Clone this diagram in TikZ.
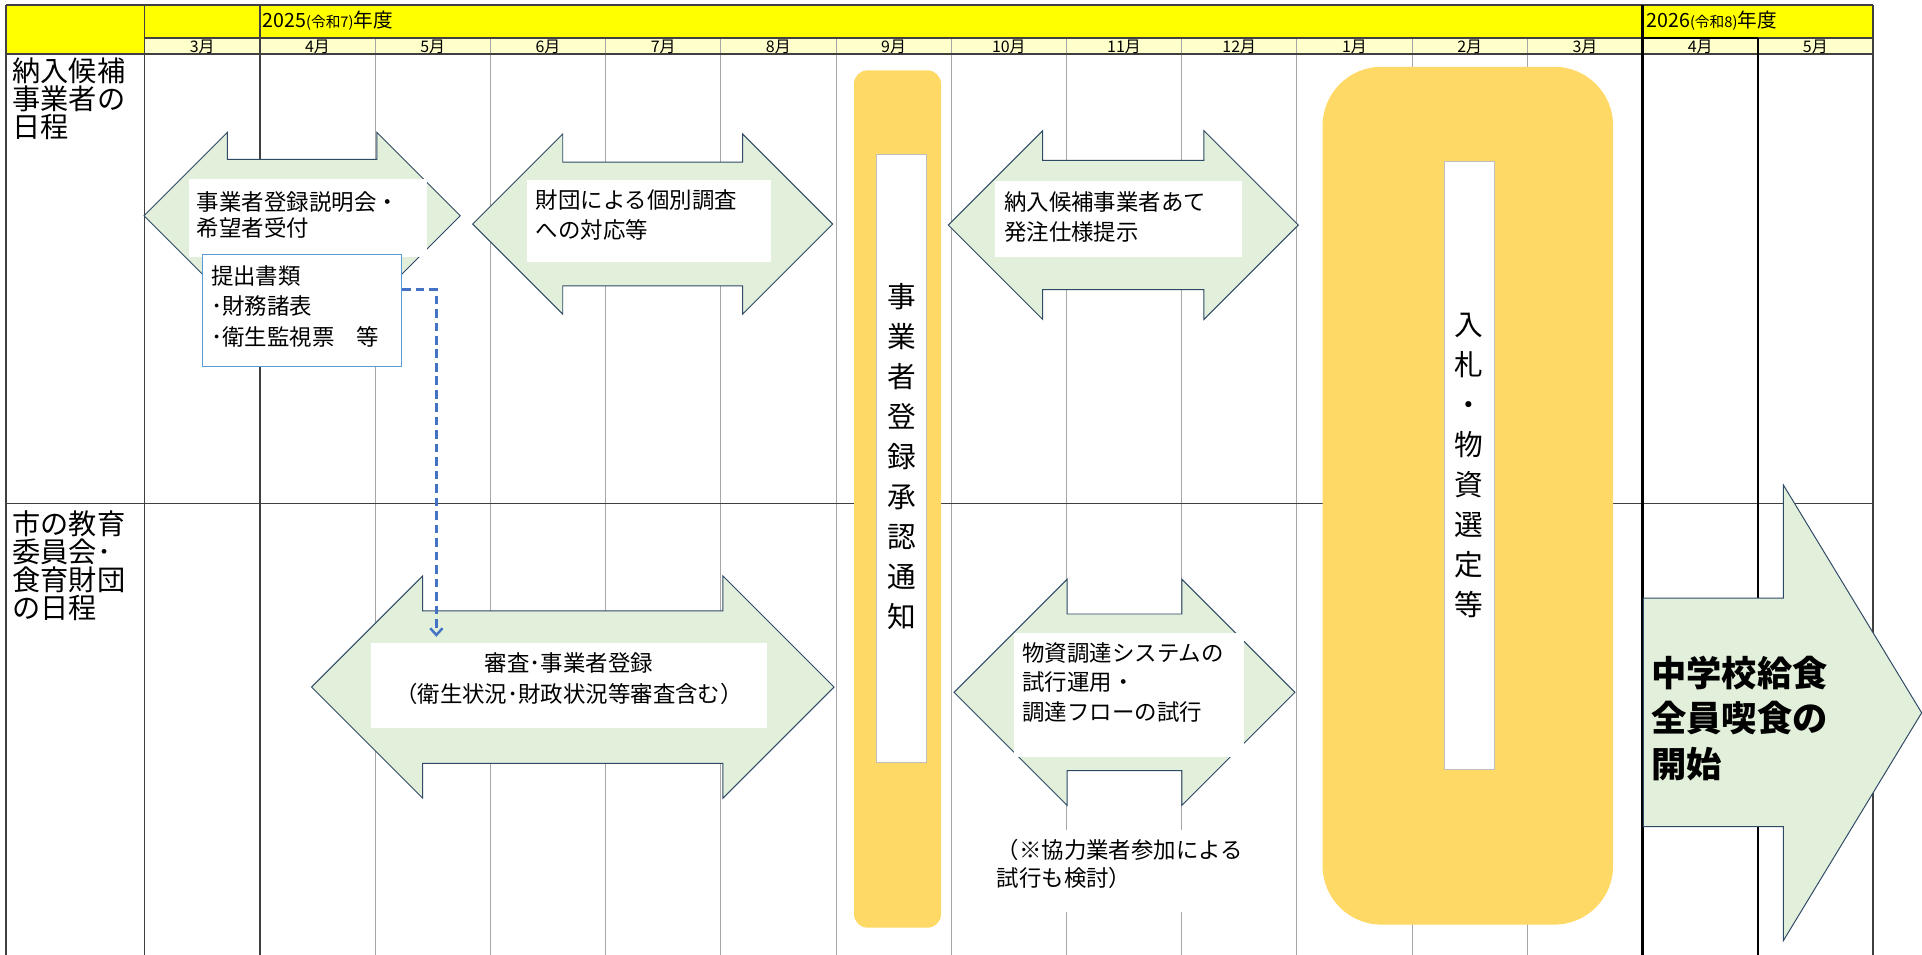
\documentclass[tikz,border=0pt]{standalone}
\usepackage{fontspec}
\setmainfont{Noto Sans CJK JP}
\usetikzlibrary{arrows.meta}
\definecolor{hdryellow}{HTML}{FFFF00}
\definecolor{monthyellow}{HTML}{FFFFCC}
\definecolor{goldfill}{HTML}{FFD966}
\definecolor{arrowgreen}{HTML}{E2EFDA}
\definecolor{arrowline}{HTML}{2F4A66}
\definecolor{gridgray}{HTML}{A6A6A6}
\definecolor{griddark}{HTML}{404040}
\definecolor{dashblue}{HTML}{4472C4}
\definecolor{boxblue}{HTML}{5B9BD5}
\definecolor{innergray}{HTML}{BFBFBF}
\newcommand{\fsz}[2]{\fontsize{#1pt}{#2pt}\selectfont\lineskiplimit=-100pt\lineskip=0pt\relax}
% double-headed block arrow: left tip x, right tip x, centre y, head size, shaft half height
\newcommand{\DArrow}[5]{%
  \pgfmathsetmacro\dxa{#1+#4}\pgfmathsetmacro\dxb{#2-#4}%
  \pgfmathsetmacro\dyt{#3-#4}\pgfmathsetmacro\dyb{#3+#4}%
  \pgfmathsetmacro\dst{#3-#5}\pgfmathsetmacro\dsb{#3+#5}%
  \path[dblarrow] (#1,#3) -- (\dxa,\dyt) -- (\dxa,\dst) -- (\dxb,\dst) -- (\dxb,\dyt) -- (#2,#3)
    -- (\dxb,\dyb) -- (\dxb,\dsb) -- (\dxa,\dsb) -- (\dxa,\dyb) -- cycle;}
\begin{document}
\begin{tikzpicture}[x=1pt,y=-1pt,
  dblarrow/.style={fill=arrowgreen,draw=arrowline,line width=0.8pt,line join=miter},
  thingrid/.style={draw=gridgray,line width=0.7pt},
  darkgrid/.style={draw=griddark,line width=1.2pt},
  blackgrid/.style={draw=black,line width=1.8pt},
  whitebox/.style={fill=white,draw=none},
  goldbox/.style={fill=goldfill,draw=none},
  innerbox/.style={fill=white,draw=innergray,line width=0.6pt},
  bodytxt/.style={inner sep=0pt,anchor=west,align=left,font=\fsz{18.3}{24.5}},
  centxt/.style={inner sep=0pt,anchor=center,align=center,font=\fsz{18.3}{25}},
  vtxt/.style={inner sep=0pt,anchor=center,align=center,font=\fsz{23.4}{32.6}},
  lanetxt/.style={inner sep=0pt,anchor=west,align=left,font=\fsz{23}{22.8}},
  monthtxt/.style={inner sep=0pt,anchor=center,font=\fsz{13}{13}},
  dashconn/.style={draw=dashblue,line width=2pt,dash pattern=on 7pt off 4pt,
     -{Straight Barb[length=5.5pt,width=10pt]}}
]
\useasboundingbox (0,0) rectangle (1568,779);
\fill[white] (0,0) rectangle (1568,779);

% header fills
\fill[hdryellow] (5,4) rectangle (1528,31);
\fill[hdryellow] (5,31) rectangle (118,44);
\fill[monthyellow] (118,31) rectangle (1528,44);

% thin month grid lines
\foreach \k in {1,...,11} \draw[thingrid] (212+94*\k,31) -- (212+94*\k,779);
% horizontal lines
\draw[darkgrid] (118,31) -- (1528,31);
\draw[darkgrid] (5,44) -- (1528,44);
\draw[darkgrid,line width=1pt] (5,411) -- (1528,411);
\draw[darkgrid] (5,4) -- (1528,4);
% strong vertical lines
\draw[darkgrid] (5,4) -- (5,779);
\draw[darkgrid] (118,4) -- (118,779);
\draw[darkgrid,line width=1.5pt] (212,4) -- (212,779);
\draw[blackgrid] (1340,4) -- (1340,779);
\draw[blackgrid] (1434,31) -- (1434,779);
\draw[blackgrid] (1340,31) -- (1434,31);
\draw[darkgrid,line width=1.5pt] (1528,4) -- (1528,779);

% header texts
\node[inner sep=0pt,anchor=west] (fy25) at (214,17) {\fsz{16}{16}2025\fsz{12}{12}(令和7)\fsz{16}{16}年度};
\node[inner sep=0pt,anchor=west] (fy26) at (1343,17) {\fsz{16}{16}2026\fsz{12}{12}(令和8)\fsz{16}{16}年度};
\foreach \m [count=\i from 0] in {3,4,5,6,7,8,9,10,11,12,1,2,3,4,5}
  \node[monthtxt] (mon\i) at (165+94*\i,38.3) {\m 月};

% lane labels
\node[lanetxt] (lane1) at (10,80.5) {納入候補\\事業者の\\日程};
\node[lanetxt] (lane2) at (10,461.5) {市の教育\\委員会･\\食育財団\\の日程};

% gold rounded boxes
\fill[goldbox,rounded corners=11pt] (696.7,57.4) rectangle (767.7,756.8);
\draw[innerbox] (715.2,125.8) rectangle (756,621.6);
\node[vtxt] (approve) at (735.6,372.6) {事\\業\\者\\登\\録\\承\\認\\通\\知};

\fill[goldbox,rounded corners=48pt] (1079,54.5) rectangle (1316,754.3);
\draw[innerbox] (1178,131.8) rectangle (1219,627.3);
\node[vtxt] (bid) at (1198.2,379.6) {入\\札\\・\\物\\資\\選\\定\\等};

% double arrows
\DArrow{117.5}{375.5}{176}{68}{46}
\DArrow{385.6}{679.3}{182.8}{73.5}{50.5}
\DArrow{773.6}{1059.2}{183.6}{77}{52.7}
\DArrow{254.2}{680.4}{560.5}{90.6}{62.2}
\DArrow{778.3}{1056.4}{564.8}{92.2}{63.9}

% final arrow
\path[dblarrow] (1340.6,488) -- (1454.8,488) -- (1454.8,395.5) -- (1567.7,581.5)
  -- (1454.8,767.5) -- (1454.8,674.4) -- (1340.6,674.4) -- cycle;

% white label boxes
\fill[whitebox] (154.5,146.3) rectangle (348.1,209.4);
\fill[whitebox] (429.6,146.8) rectangle (628.7,213.5);
\fill[whitebox] (811.7,147.7) rectangle (1013,209.4);
\fill[whitebox] (303,524.8) rectangle (625.4,593.6);
\fill[whitebox] (827.2,516.1) rectangle (1014.8,617.3);

% arrow texts
\node[bodytxt,font=\fsz{18.3}{21.8}] (briefing) at (160.5,175.3) {事業者登録説明会・\\希望者受付};
\node[bodytxt] (survey) at (437,175.3) {財団による個別調査\\への対応等};
\node[bodytxt] (spec) at (819,176.8) {納入候補事業者あて\\発注仕様提示};
\node[centxt] (review) at (464.2,553.6) {審査･事業者登録\\（衛生状況･財政状況等審査含む）};
\node[bodytxt,font=\fsz{18.3}{23.8}] (trial) at (834,556.8) {物資調達システムの\\試行運用・\\調達フローの試行};

% submitted documents box
\node[draw=boxblue,line width=0.8pt,fill=white,minimum width=162.4pt,minimum height=91pt,inner sep=0pt] (subm) at (246.5,253.5) {};
\node[bodytxt,font=\fsz{18.3}{24.5}] (submtxt) at (172,250) {提出書類\\･財務諸表\\･衛生監視票　等};

% dashed connector
\coordinate (dashy) at (0,236);
\coordinate (regtgt) at (356,519.5);
\draw[dashconn] (subm.east |- dashy) -| (regtgt);

% note
\fill[whitebox] (800,677) rectangle (1040,744);
\node[bodytxt,font=\fsz{18.3}{23.1}] (note) at (813,705) {（※協力業者参加による\\試行も検討）};

% final arrow text
\node[inner sep=0pt,anchor=west,align=left,font=\fsz{28.8}{37}\bfseries] (start) at (1347,586) {中学校給食\\全員喫食の\\開始};
\end{tikzpicture}
\end{document}
